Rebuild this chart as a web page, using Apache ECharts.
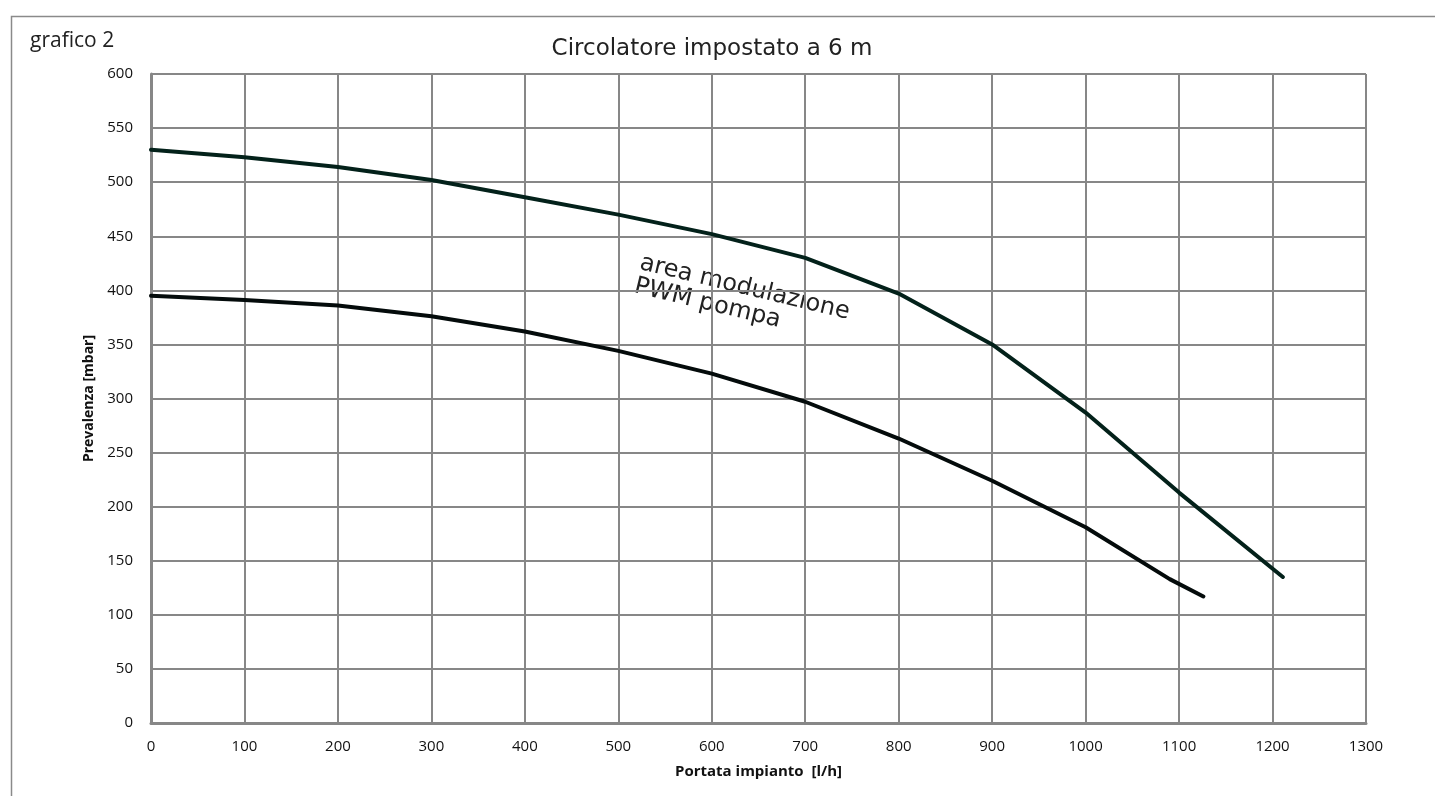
<!DOCTYPE html>
<html>
<head>
<meta charset="utf-8">
<script src="https://cdn.jsdelivr.net/npm/echarts@6/dist/echarts.min.js"></script>
<style>
html,body{margin:0;padding:0;background:#fff;}
#chart{width:1435px;height:796px;}
</style>
</head>
<body>
<div id="chart"></div>
<script>
// Data
const upperX = [0, 100, 200, 300, 400, 500, 600, 700, 800, 900, 1000, 1100, 1211];
const upperY = [530, 523, 514, 502, 486, 470, 452, 430, 397, 350, 287, 213, 135];
const lowerX = [0, 100, 200, 300, 400, 500, 600, 700, 800, 900, 1000, 1090, 1126];
const lowerY = [395, 391, 386, 376, 362, 344, 323, 297, 263, 224, 181, 133, 117];
const xTicks = [0, 1300, 100];
const yTicks = [0, 600, 50];
const titleText = 'Circolatore impostato a 6 m';
const chartLabel = 'grafico 2';
const xName = 'Portata impianto  [l/h]';
const yName = 'Prevalenza [mbar]';
const annotation = 'area modulazione\nPWM pompa';

const pair = (xs, ys) => xs.map((x, i) => [x, ys[i]]);
const gridColor = '#878787';
const labelFont = '"Open Sans", "Noto Sans", sans-serif';

const chart = echarts.init(document.getElementById('chart'), null, {renderer: 'canvas'});
chart.setOption({
  backgroundColor: '#fff',
  animation: false,
  title: {
    text: titleText,
    left: 707, top: 33, textAlign: 'center',
    textStyle: {fontFamily: '"DejaVu Sans", sans-serif', fontSize: 23, fontWeight: 'normal', color: '#222'}
  },
  grid: {left: 151, right: 69, top: 74, bottom: 73, containLabel: false},
  xAxis: {
    type: 'value', min: xTicks[0], max: xTicks[1], interval: xTicks[2],
    name: xName, nameLocation: 'middle', nameGap: 41,
    nameTextStyle: {fontFamily: labelFont, fontSize: 15, fontWeight: 'bold', color: '#111'},
    axisLine: {show: true, lineStyle: {color: gridColor, width: 3}},
    axisTick: {show: false},
    axisLabel: {fontFamily: labelFont, fontSize: 15, color: '#111', margin: 16, formatter: v => String(v)},
    splitLine: {show: true, lineStyle: {color: gridColor, width: 2}}
  },
  yAxis: {
    type: 'value', min: yTicks[0], max: yTicks[1], interval: yTicks[2],
    name: yName, nameLocation: 'middle', nameGap: 54, nameRotate: 90,
    nameTextStyle: {fontFamily: labelFont, fontSize: 14, fontWeight: 'bold', color: '#111'},
    axisLine: {show: true, lineStyle: {color: gridColor, width: 3}},
    axisTick: {show: false},
    axisLabel: {fontFamily: labelFont, fontSize: 15, color: '#111', margin: 18},
    splitLine: {show: true, lineStyle: {color: gridColor, width: 2}}
  },
  series: [
    {
      type: 'line', data: pair(upperX, upperY), symbol: 'none',
      lineStyle: {color: '#03211a', width: 4, cap: 'round', join: 'round'}
    },
    {
      type: 'line', data: pair(lowerX, lowerY), symbol: 'none',
      lineStyle: {color: '#040b0b', width: 4, cap: 'round', join: 'round'}
    }
  ],
  graphic: [
    {
      type: 'rect', left: 9, top: 14, silent: true, z: -1,
      shape: {width: 1440, height: 800},
      style: {fill: 'none', stroke: '#8a8a8a', lineWidth: 1.5}
    },
    {
      type: 'text', left: 30, top: 31,
      style: {text: chartLabel, font: '21px "Open Sans", "Noto Sans", sans-serif', fill: '#222'}
    },
    {
      type: 'text', x: 643, y: 251, rotation: -13.5 * Math.PI / 180,
      style: {text: annotation, font: '24px "DejaVu Sans", sans-serif', fill: '#222', lineHeight: 24, textVerticalAlign: 'top', textAlign: 'left'}
    }
  ]
});
</script>
</body>
</html>
